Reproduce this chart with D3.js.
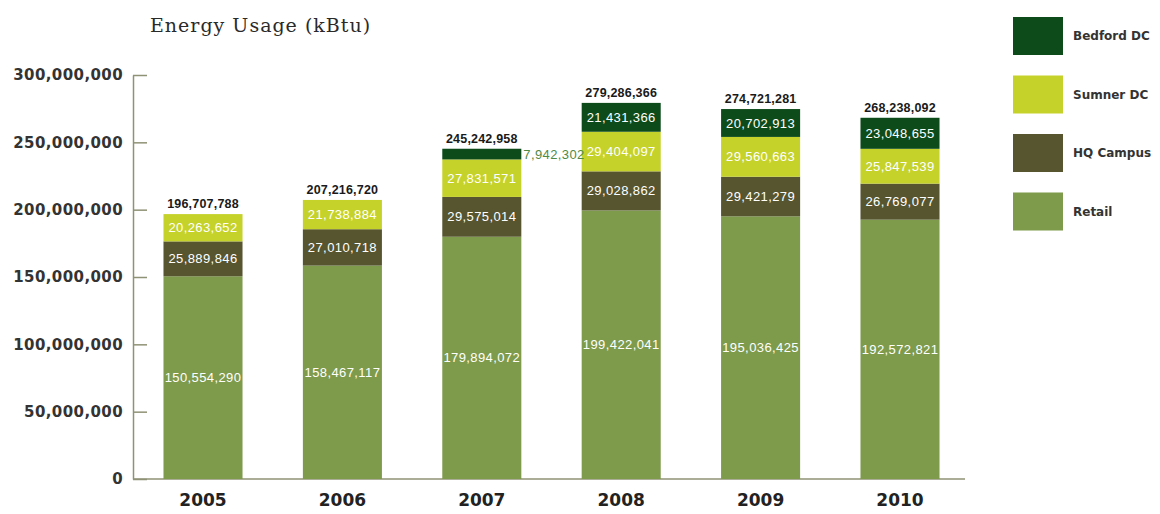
<!DOCTYPE html>
<html>
<head>
<meta charset="utf-8">
<script src="https://cdn.jsdelivr.net/npm/d3@7"></script>
<style>
  html, body { margin: 0; padding: 0; background: #ffffff; }
  svg { display: block; }
</style>
</head>
<body>
<svg id="chart" width="1160" height="514"></svg>
<script>
// Energy usage per facility, kBtu
const years = ["2005", "2006", "2007", "2008", "2009", "2010"];
const retail   = [150554290, 158467117, 179894072, 199422041, 195036425, 192572821];
const hqCampus = [25889846, 27010718, 29575014, 29028862, 29421279, 26769077];
const sumnerDC = [20263652, 21738884, 27831571, 29404097, 29560663, 25847539];
const bedfordDC = [0, 0, 7942302, 21431366, 20702913, 23048655];
const totals = [196707788, 207216720, 245242958, 279286366, 274721281, 268238092];
const yTicks = [0, 50000000, 100000000, 150000000, 200000000, 250000000, 300000000];

const seriesNames = ["Retail", "HQ Campus", "Sumner DC", "Bedford DC"];
const seriesValues = [retail, hqCampus, sumnerDC, bedfordDC];
const colors = {
  "Retail": "#7e9a4b",
  "HQ Campus": "#56552f",
  "Sumner DC": "#c5d22a",
  "Bedford DC": "#0d4b1b"
};

const svg = d3.select("#chart");
const fmt = d3.format(",");

const x = d3.scaleBand()
  .domain(years)
  .range([133.3, 969.7])
  .paddingInner(0.433)
  .paddingOuter(0.2165);

const y = d3.scaleLinear()
  .domain([0, 300000000])
  .range([479, 75]);

// Title
svg.append("text")
  .attr("x", 150)
  .attr("y", 32)
  .attr("font-family", "DejaVu Serif")
  .attr("font-size", 19)
  .attr("letter-spacing", 1)
  .attr("fill", "#2a2a2a")
  .text("Energy Usage (kBtu)");

// Y axis with inward ticks
const yAxis = d3.axisLeft(y)
  .tickValues(yTicks)
  .tickFormat(fmt)
  .tickSizeInner(-14)
  .tickSizeOuter(0)
  .tickPadding(10);

const gy = svg.append("g")
  .attr("transform", "translate(133,0)")
  .call(yAxis);
gy.select(".domain").attr("stroke", "#8f9275").attr("stroke-width", 1.5);
gy.selectAll(".tick line").attr("stroke", "#8f9275").attr("stroke-width", 1.5);
gy.selectAll(".tick text")
  .attr("font-family", "DejaVu Sans")
  .attr("font-weight", "bold")
  .attr("font-size", 15)
  .attr("letter-spacing", 0.4)
  .attr("fill", "#333");

// Baseline
svg.append("line")
  .attr("x1", 133).attr("x2", 965)
  .attr("y1", y(0)).attr("y2", y(0))
  .attr("stroke", "#8f9275")
  .attr("stroke-width", 1.5);

// Stacked data
const rows = years.map((yr, i) => {
  const r = { year: yr };
  seriesNames.forEach((s, k) => { r[s] = seriesValues[k][i]; });
  return r;
});
const stacked = d3.stack().keys(seriesNames)(rows);

const layers = svg.append("g").selectAll("g")
  .data(stacked)
  .join("g")
  .attr("fill", d => colors[d.key]);

layers.selectAll("rect")
  .data(d => d.map(p => ({ key: d.key, y0: p[0], y1: p[1], year: p.data.year })))
  .join("rect")
  .attr("x", d => x(d.year))
  .attr("width", x.bandwidth())
  .attr("y", d => y(d.y1))
  .attr("height", d => y(d.y0) - y(d.y1));

// Segment value labels (thin segments get their label beside the bar)
const segLabels = [];
stacked.forEach(layer => {
  layer.forEach(p => {
    const v = p[1] - p[0];
    if (v > 0) segLabels.push({ key: layer.key, y0: p[0], y1: p[1], v: v, year: p.data.year });
  });
});
const isThin = d => (y(d.y0) - y(d.y1)) < 14;

svg.append("g").selectAll("text")
  .data(segLabels)
  .join("text")
  .attr("x", d => isThin(d) ? x(d.year) + x.bandwidth() + 2 : x(d.year) + x.bandwidth() / 2)
  .attr("y", d => (y(d.y0) + y(d.y1)) / 2)
  .attr("dy", "0.35em")
  .attr("text-anchor", d => isThin(d) ? "start" : "middle")
  .attr("font-family", "Liberation Sans")
  .attr("font-size", 13)
  .attr("letter-spacing", 0.4)
  .attr("fill", d => isThin(d) ? "#4f8a45" : "#ffffff")
  .text(d => fmt(d.v));

// Totals above each bar
const stackTop = years.map((yr, i) => d3.sum(seriesValues, s => s[i]));
svg.append("g").selectAll("text")
  .data(years)
  .join("text")
  .attr("x", d => x(d) + x.bandwidth() / 2)
  .attr("y", (d, i) => y(stackTop[i]) - 6)
  .attr("text-anchor", "middle")
  .attr("font-family", "Liberation Sans")
  .attr("font-weight", "bold")
  .attr("font-size", 12.5)
  .attr("letter-spacing", 0.2)
  .attr("fill", "#1a1a1a")
  .text((d, i) => fmt(totals[i]));

// Year labels
svg.append("g").selectAll("text")
  .data(years)
  .join("text")
  .attr("x", d => x(d) + x.bandwidth() / 2)
  .attr("y", 506)
  .attr("text-anchor", "middle")
  .attr("font-family", "DejaVu Sans")
  .attr("font-weight", "bold")
  .attr("font-size", 17)
  .attr("fill", "#222")
  .text(d => d);

// Legend
const legendOrder = ["Bedford DC", "Sumner DC", "HQ Campus", "Retail"];
const legend = svg.append("g").selectAll("g")
  .data(legendOrder)
  .join("g")
  .attr("transform", (d, i) => `translate(1013, ${17 + i * 58.5})`);
legend.append("rect")
  .attr("width", 50)
  .attr("height", 38)
  .attr("fill", d => colors[d]);
legend.append("text")
  .attr("x", 60)
  .attr("y", 19)
  .attr("dy", "0.35em")
  .attr("font-family", "DejaVu Sans")
  .attr("font-weight", "bold")
  .attr("font-size", 12)
  .attr("fill", "#333")
  .text(d => d);
</script>
</body>
</html>
